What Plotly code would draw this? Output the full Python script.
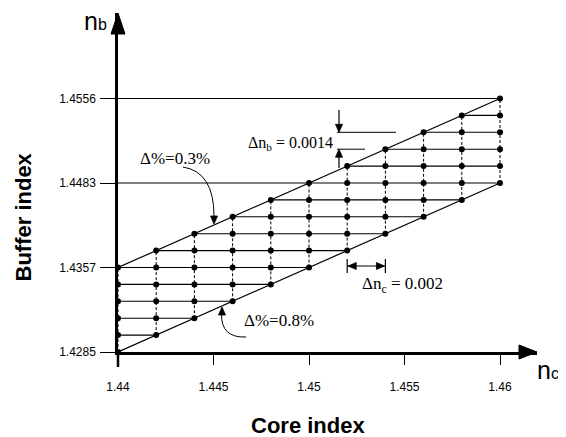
import plotly.graph_objects as go

# ---------------- data ----------------
core_index = [1.440, 1.442, 1.444, 1.446, 1.448, 1.450, 1.452, 1.454, 1.456, 1.458, 1.460]
low_level = [0, 1, 2, 3, 4, 5, 6, 7, 8, 9, 10]        # Δ% = 0.8 % boundary (buffer level index)
high_level = [5, 6, 7, 8, 9, 10, 11, 12, 13, 14, 15]  # Δ% = 0.3 % boundary (buffer level index)
reference_levels = [10, 15]                            # horizontal guide lines drawn from the axis
buffer_tick_levels = [0, 5, 10, 15]
buffer_tick_labels = ["1.4285", "1.4357", "1.4483", "1.4556"]
core_tick_values = [1.44, 1.445, 1.45, 1.455, 1.46]
core_tick_labels = ["1.44", "1.445", "1.45", "1.455", "1.46"]

# ---------------- geometry ----------------
# The page body has an 8px default margin, so the figure is 8px smaller
# and every reference pixel position is measured in window coordinates.
OFF = 8
W, H = 566 - OFF, 437 - OFF
X0_PX, Y0_PX = 118, 352          # window pixel of (first core index, level 0)
XEND_PX, YTOP_PX = 537, 13        # window pixel of arrow tips
ML, MT = X0_PX - OFF, YTOP_PX - OFF
MR, MB = 566 - XEND_PX, 437 - Y0_PX
PW, PH = W - ML - MR, H - MT - MB
XPX = (500 - X0_PX) / (core_index[-1] - core_index[0])   # pixels per unit of core index
YPX = 16.9                                                # pixels per buffer level
x_range = [core_index[0], core_index[0] + PW / XPX]
y_range = [0, PH / YPX]


def px(xp):
    return core_index[0] + (xp - X0_PX) / XPX


def py(yp):
    return (Y0_PX - yp) / YPX


def ppx(xp):
    return (xp - X0_PX) / PW


def ppy(yp):
    return (Y0_PX - yp) / PH


def head_path(tx, ty, dx, dy, length=8, half=3.5):
    bx, by = tx - dx * length, ty - dy * length
    ax1, ay1 = bx - dy * half, by + dx * half
    ax2, ay2 = bx + dy * half, by - dx * half
    return f"M {px(ax1)} {py(ay1)} L {px(tx)} {py(ty)} L {px(ax2)} {py(ay2)} Z"


fig = go.Figure()

# vertical dashed lines (one per core index)
vx, vy = [], []
for c, lo, hi in zip(core_index, low_level, high_level):
    vx += [c, c, None]
    vy += [lo, hi, None]
fig.add_trace(go.Scatter(x=vx, y=vy, mode="lines", cliponaxis=False,
                         line=dict(color="black", width=1, dash="3px,2px"),
                         hoverinfo="skip", showlegend=False))

# horizontal solid lines (one per buffer level)
hx, hy = [], []
for r in range(min(low_level), max(high_level) + 1):
    xs = [c for c, lo, hi in zip(core_index, low_level, high_level) if lo <= r <= hi]
    if r in reference_levels:
        xs = xs + [core_index[0]]
    if len(xs) >= 2 and r > 0:
        hx += [min(xs), max(xs), None]
        hy += [r, r, None]
fig.add_trace(go.Scatter(x=hx, y=hy, mode="lines", cliponaxis=False,
                         line=dict(color="black", width=1.1),
                         hoverinfo="skip", showlegend=False))

# boundary lines Δ% = 0.3 % and 0.8 %
fig.add_trace(go.Scatter(x=[core_index[0], core_index[-1], None, core_index[0], core_index[-1]],
                         y=[high_level[0], high_level[-1], None, low_level[0], low_level[-1]],
                         mode="lines", cliponaxis=False,
                         line=dict(color="black", width=1.2),
                         hoverinfo="skip", showlegend=False))

# grid points
mx, my = [], []
for c, lo, hi in zip(core_index, low_level, high_level):
    for r in range(lo, hi + 1):
        mx.append(c)
        my.append(r)
fig.add_trace(go.Scatter(x=mx, y=my, mode="markers", cliponaxis=False,
                         marker=dict(color="black", size=6),
                         hoverinfo="skip", showlegend=False))

serif = "Liberation Serif, Times New Roman, serif"
sans = "Liberation Sans, Arial, sans-serif"
annotations = []
shapes = []
BLACK_LINE = dict(color="black", width=1.2)
BLACK_FILL = dict(fillcolor="black", line=dict(color="black", width=0.8))

# labels
annotations.append(dict(x=px(335), y=py(143), xref="x", yref="y", xanchor="right", yanchor="middle",
                        text="Δn<sub>b</sub> = 0.0014", showarrow=False,
                        font=dict(family=serif, size=16, color="black")))
annotations.append(dict(x=px(175), y=py(158), xref="x", yref="y", xanchor="center", yanchor="middle",
                        text="Δ%=0.3%", showarrow=False,
                        font=dict(family=serif, size=17, color="black")))
annotations.append(dict(x=px(279), y=py(320), xref="x", yref="y", xanchor="center", yanchor="middle",
                        text="Δ%=0.8%", showarrow=False,
                        font=dict(family=serif, size=17, color="black")))
annotations.append(dict(x=px(402), y=py(285), xref="x", yref="y", xanchor="center", yanchor="middle",
                        text="Δn<sub>c</sub> = 0.002", showarrow=False,
                        font=dict(family=serif, size=17, color="black")))

# Δn_b marker lines and arrows
shapes.append(dict(type="line", xref="x", yref="y", x0=px(337), x1=px(396), y0=13, y1=13,
                   line=dict(color="black", width=1)))
shapes.append(dict(type="line", xref="x", yref="y", x0=px(337), x1=px(365), y0=12, y1=12,
                   line=dict(color="black", width=1)))
shapes.append(dict(type="line", xref="x", yref="y", x0=px(339), x1=px(339), y0=py(110), y1=py(126),
                   line=BLACK_LINE))
shapes.append(dict(type="path", xref="x", yref="y", path=head_path(339, Y0_PX - 13 * YPX, 0, 1),
                   **BLACK_FILL))
shapes.append(dict(type="line", xref="x", yref="y", x0=px(339), x1=px(339), y0=py(168), y1=py(155),
                   line=BLACK_LINE))
shapes.append(dict(type="path", xref="x", yref="y", path=head_path(339, Y0_PX - 12 * YPX, 0, -1),
                   **BLACK_FILL))

# Δn_c double arrow between two neighbouring core indices
yc = 266
c6_px = X0_PX + (core_index[6] - core_index[0]) * XPX
c7_px = X0_PX + (core_index[7] - core_index[0]) * XPX
for c in (core_index[6], core_index[7]):
    shapes.append(dict(type="line", xref="x", yref="y", x0=c, x1=c, y0=py(259), y1=py(273),
                       line=dict(color="black", width=1.2)))
shapes.append(dict(type="line", xref="x", yref="y", x0=core_index[6], x1=core_index[7],
                   y0=py(yc), y1=py(yc), line=BLACK_LINE))
shapes.append(dict(type="path", xref="x", yref="y", path=head_path(c6_px + 1, yc, -1, 0), **BLACK_FILL))
shapes.append(dict(type="path", xref="x", yref="y", path=head_path(c7_px - 1, yc, 1, 0), **BLACK_FILL))

# curved arrows to the boundary lines
shapes.append(dict(type="path", xref="x", yref="y",
                   path=f"M {px(183)} {py(167)} Q {px(214)} {py(172)} {px(214)} {py(216)}",
                   line=dict(color="black", width=1)))
shapes.append(dict(type="path", xref="x", yref="y", path=head_path(214, 224, 0, 1), **BLACK_FILL))
shapes.append(dict(type="path", xref="x", yref="y",
                   path=f"M {px(246)} {py(337)} Q {px(221)} {py(338)} {px(221.5)} {py(314)}",
                   line=dict(color="black", width=1)))
shapes.append(dict(type="path", xref="x", yref="y", path=head_path(222, 307, 0, -1), **BLACK_FILL))

# axis arrowheads and the y axis stub below the x axis (paper coordinates)
shapes.append(dict(type="path", xref="paper", yref="paper", fillcolor="black",
                   line=dict(color="black", width=1),
                   path=f"M {-7/PW} {1-21/PH} L 0 1 L {7/PW} {1-21/PH} Z"))
shapes.append(dict(type="path", xref="paper", yref="paper", fillcolor="black",
                   line=dict(color="black", width=1),
                   path=f"M {1-18/PW} {-7/PH} L 1 0 L {1-18/PW} {7/PH} Z"))
shapes.append(dict(type="line", xref="paper", yref="paper", x0=0, x1=0, y0=0, y1=ppy(367),
                   line=dict(color="black", width=2.5)))

# axis end labels n_b and n_c
annotations.append(dict(x=ppx(95), y=ppy(21), xref="paper", yref="paper",
                        xanchor="center", yanchor="middle", showarrow=False,
                        text="n<span style='font-size:16px'>b</span>",
                        font=dict(family=sans, size=25, color="black")))
annotations.append(dict(x=ppx(535), y=ppy(370), xref="paper", yref="paper",
                        xanchor="left", yanchor="middle", showarrow=False,
                        text="n<span style='font-size:16px'>c</span>",
                        font=dict(family=sans, size=25, color="black")))

# axis titles
annotations.append(dict(x=ppx(307.5), y=ppy(425), xref="paper", yref="paper",
                        xanchor="center", yanchor="middle", showarrow=False,
                        text="<b>Core index</b>",
                        font=dict(family=sans, size=22, color="black")))
annotations.append(dict(x=ppx(23), y=ppy(217.5), xref="paper", yref="paper",
                        xanchor="center", yanchor="middle", showarrow=False, textangle=-90,
                        text="<b>Buffer index</b>",
                        font=dict(family=sans, size=22, color="black")))

fig.update_layout(
    width=W, height=H,
    margin=dict(l=ML, r=MR, t=MT, b=MB),
    paper_bgcolor="white", plot_bgcolor="white",
    showlegend=False,
    annotations=annotations,
    shapes=shapes,
    xaxis=dict(range=x_range, showgrid=False, zeroline=False, showline=True,
               linecolor="black", linewidth=2.5, ticks="outside", ticklen=10, tickwidth=1,
               tickcolor="black", tickvals=core_tick_values, ticktext=core_tick_labels,
               tickfont=dict(family=sans, size=12, color="black"), ticklabelstandoff=12),
    yaxis=dict(range=y_range, showgrid=False, zeroline=False, showline=True,
               linecolor="black", linewidth=2.5, ticks="outside", ticklen=15, tickwidth=1,
               tickcolor="black", tickvals=buffer_tick_levels, ticktext=buffer_tick_labels,
               tickfont=dict(family=sans, size=12, color="black"), ticklabelstandoff=2),
)

fig.write_html("out.html")
